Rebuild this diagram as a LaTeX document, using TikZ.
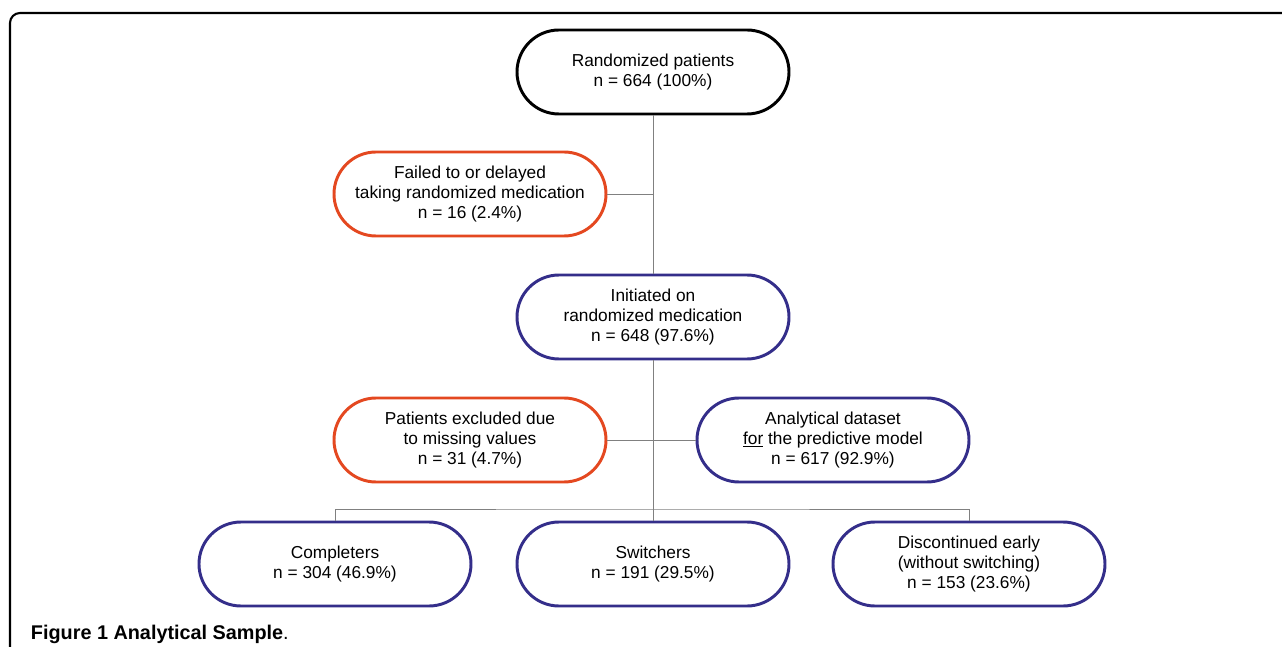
\documentclass[tikz,border=0pt]{standalone}
\usepackage{fontspec}
\setmainfont{Liberation Sans}
\usetikzlibrary{positioning,calc}
\definecolor{colRouge}{RGB}{228,72,32}
\definecolor{colBleu}{RGB}{52,46,138}
\definecolor{colTrait}{RGB}{128,128,128}

\begin{document}
\begin{tikzpicture}[font=\fontsize{12.3}{14.4}\selectfont,
    box/.style={rectangle, rounded corners=1.05cm, draw, line width=2.1pt,
      align=center, minimum width=6.8cm, minimum height=2.1cm, inner sep=2pt,
      fill=white},
    lien/.style={colTrait, line width=0.7pt}]
    \useasboundingbox (-16.325,1.8) rectangle (15.725,-14.375);
    % cadre de la figure
    \draw[line width=1.5pt, rounded corners=0.25cm]
      (16.2,1.475) -- (-16.075,1.475) -- (-16.075,-14.8);
    \node[box, draw=black] (rand) at (0,0)
      {Randomized patients\\ n = 664 (100\%)};
    \node[box, draw=colRouge] (fail) at (-4.575,-3.05)
      {Failed to or delayed\\ taking randomized medication\\ n = 16 (2.4\%)};
    \node[box, draw=colBleu] (init) at (0,-6.125)
      {Initiated on\\ randomized medication\\ n = 648 (97.6\%)};
    \node[box, draw=colRouge] (excl) at (-4.575,-9.2)
      {Patients excluded due\\ to missing values\\ n = 31 (4.7\%)};
    \node[box, draw=colBleu] (ana) at (4.5,-9.2)
      {Analytical dataset\\ \underline{for} the predictive model\\ n = 617 (92.9\%)};
    \node[box, draw=colBleu] (comp) at (-7.95,-12.3)
      {Completers\\ n = 304 (46.9\%)};
    \node[box, draw=colBleu] (swit) at (0,-12.3)
      {Switchers\\ n = 191 (29.5\%)};
    \node[box, draw=colBleu] (disc) at (7.9,-12.3)
      {Discontinued early\\ (without switching)\\ n = 153 (23.6\%)};
    \coordinate (branche) at (0,-10.925);
    % liaisons
    \draw[lien] (rand.south) -- (init.north);
    \draw[lien] (init.south) -- (swit.north);
    \draw[lien] (fail.east) -- (fail.east -| rand.south);
    \draw[lien] (excl.east) -- (ana.west);
    \draw[lien] (comp.north) |- (branche) -| (disc.north);
    \node[anchor=base west, font=\fontsize{14.1}{16}\selectfont] (legende)
      at (-15.675,-14.175) {\textbf{Figure 1 Analytical Sample}.};
  \end{tikzpicture}
\end{document}
